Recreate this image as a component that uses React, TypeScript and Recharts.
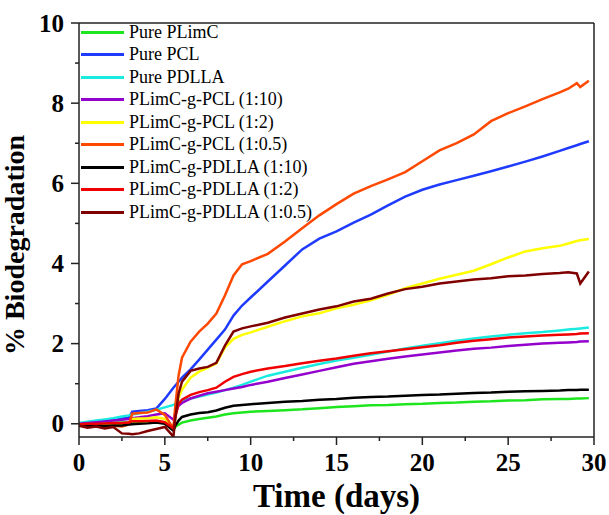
import { LineChart, Line, XAxis, YAxis, ReferenceLine, Legend } from 'recharts'

const DAYS = [0, 0.5, 1, 1.5, 2, 2.5, 2.9, 3.1, 3.5, 4, 4.5, 5, 5.5, 5.6, 5.8, 6, 6.5, 7, 7.5, 8, 8.5, 9, 9.5, 10, 11, 12, 13, 14, 15, 16, 17, 18, 19, 20, 21, 22, 23, 24, 25, 26, 27, 28, 28.5, 29, 29.2, 29.7]

const PURE_PLIMC = [0, 0.01, 0.01, 0.02, 0.02, 0.03, 0.03, 0.04, 0.04, 0.05, 0.06, 0.02, -0.15, -0.08, -0.02, 0.03, 0.08, 0.12, 0.15, 0.18, 0.23, 0.26, 0.28, 0.3, 0.32, 0.34, 0.36, 0.39, 0.42, 0.44, 0.46, 0.47, 0.49, 0.5, 0.52, 0.53, 0.55, 0.56, 0.58, 0.59, 0.61, 0.62, 0.62, 0.63, 0.63, 0.64]
const PURE_PCL = [0, 0.03, 0.06, 0.09, 0.11, 0.13, 0.15, 0.3, 0.32, 0.34, 0.38, 0.62, 0.9, 0.95, 1.05, 1.15, 1.36, 1.6, 1.85, 2.1, 2.35, 2.7, 2.95, 3.15, 3.55, 3.95, 4.35, 4.62, 4.8, 5.02, 5.22, 5.45, 5.67, 5.84, 5.97, 6.08, 6.19, 6.3, 6.42, 6.54, 6.67, 6.81, 6.88, 6.95, 6.98, 7.05]
const PURE_PDLLA = [0.02, 0.05, 0.08, 0.11, 0.14, 0.18, 0.21, 0.23, 0.26, 0.3, 0.35, 0.41, 0.47, 0.5, 0.54, 0.58, 0.63, 0.68, 0.73, 0.78, 0.84, 0.9, 0.97, 1.05, 1.2, 1.3, 1.4, 1.49, 1.58, 1.65, 1.72, 1.8, 1.88, 1.95, 2.01, 2.07, 2.13, 2.18, 2.22, 2.26, 2.29, 2.33, 2.35, 2.37, 2.38, 2.4]
const PCL_1_10 = [0, 0.02, 0.04, 0.06, 0.08, 0.1, 0.12, 0.14, 0.16, 0.19, 0.23, 0.26, 0.1, 0.25, 0.45, 0.52, 0.63, 0.7, 0.76, 0.8, 0.84, 0.88, 0.92, 0.97, 1.05, 1.14, 1.23, 1.32, 1.41, 1.5, 1.56, 1.62, 1.68, 1.73, 1.78, 1.83, 1.87, 1.9, 1.94, 1.97, 2.0, 2.02, 2.03, 2.04, 2.05, 2.06]
const PCL_1_2 = [-0.02, -0.03, -0.02, -0.03, -0.01, 0, 0.02, 0.12, 0.13, 0.14, 0.16, 0.12, -0.1, 0.15, 0.65, 0.85, 1.15, 1.3, 1.4, 1.5, 1.9, 2.12, 2.22, 2.28, 2.42, 2.56, 2.68, 2.76, 2.88, 2.97, 3.08, 3.22, 3.38, 3.5, 3.62, 3.72, 3.82, 3.98, 4.15, 4.3, 4.38, 4.44, 4.5, 4.56, 4.58, 4.61]
const PCL_1_05 = [-0.03, -0.06, -0.04, -0.08, -0.05, -0.07, -0.02, 0.25, 0.27, 0.28, 0.36, 0.22, -0.12, 0.4, 1.2, 1.65, 2.05, 2.3, 2.5, 2.75, 3.2, 3.7, 3.98, 4.06, 4.24, 4.55, 4.88, 5.2, 5.48, 5.74, 5.93, 6.1, 6.28, 6.55, 6.82, 7.0, 7.22, 7.55, 7.75, 7.92, 8.1, 8.27, 8.36, 8.5, 8.4, 8.56]
const PDLLA_1_10 = [-0.03, -0.05, -0.04, -0.05, -0.04, -0.04, -0.02, -0.01, 0, 0.01, 0.03, 0, -0.17, -0.05, 0.08, 0.17, 0.23, 0.27, 0.29, 0.33, 0.4, 0.45, 0.47, 0.49, 0.52, 0.55, 0.57, 0.6, 0.62, 0.65, 0.67, 0.68, 0.7, 0.72, 0.73, 0.75, 0.77, 0.78, 0.8, 0.81, 0.82, 0.83, 0.84, 0.84, 0.85, 0.85]
const PDLLA_1_2 = [-0.02, 0, 0, 0.01, 0.02, 0.02, 0.03, 0.06, 0.06, 0.07, 0.08, 0.04, -0.12, 0.15, 0.5, 0.6, 0.72, 0.79, 0.84, 0.9, 1.05, 1.17, 1.24, 1.3, 1.38, 1.44, 1.51, 1.57, 1.63, 1.7, 1.76, 1.81, 1.86, 1.91, 1.96, 2.02, 2.07, 2.11, 2.15, 2.18, 2.2, 2.22, 2.23, 2.24, 2.25, 2.26]
const PDLLA_1_05 = [-0.05, -0.1, -0.07, -0.12, -0.08, -0.24, -0.25, -0.26, -0.24, -0.18, -0.13, -0.08, -0.32, 0.1, 0.75, 1.05, 1.32, 1.38, 1.42, 1.52, 1.95, 2.3, 2.38, 2.43, 2.52, 2.65, 2.75, 2.85, 2.93, 3.05, 3.12, 3.25, 3.36, 3.42, 3.5, 3.55, 3.6, 3.63, 3.68, 3.7, 3.74, 3.76, 3.78, 3.75, 3.5, 3.8]

const SERIES = [
  { key: 'plimc', name: 'Pure PLimC', color: '#1EE61E', values: PURE_PLIMC },
  { key: 'pcl', name: 'Pure PCL', color: '#1F3BFF', values: PURE_PCL },
  { key: 'pdlla', name: 'Pure PDLLA', color: '#19EBE0', values: PURE_PDLLA },
  { key: 'pcl110', name: 'PLimC-g-PCL (1:10)', color: '#9400CC', values: PCL_1_10 },
  { key: 'pcl12', name: 'PLimC-g-PCL (1:2)', color: '#FFFF00', values: PCL_1_2 },
  { key: 'pcl105', name: 'PLimC-g-PCL (1:0.5)', color: '#FF4800', values: PCL_1_05 },
  { key: 'pdlla110', name: 'PLimC-g-PDLLA (1:10)', color: '#000000', values: PDLLA_1_10 },
  { key: 'pdlla12', name: 'PLimC-g-PDLLA (1:2)', color: '#F00000', values: PDLLA_1_2 },
  { key: 'pdlla105', name: 'PLimC-g-PDLLA (1:0.5)', color: '#800000', values: PDLLA_1_05 },
]

const X_TICKS = [0, 2.5, 5, 7.5, 10, 12.5, 15, 17.5, 20, 22.5, 25, 27.5, 30]
const Y_TICKS = [0, 1, 2, 3, 4, 5, 6, 7, 8, 9, 10]

const data = DAYS.map((day, i) => {
  const row: Record<string, number> = { day }
  SERIES.forEach(s => { row[s.key] = s.values[i] })
  return row
})

const FONT = '"Liberation Serif", "Times New Roman", serif'
const AXIS = '#222'

function XTick(props: any) {
  const { x, y, payload } = props
  const major = payload.value % 5 === 0
  return (
    <g>
      <line x1={x} x2={x} y1={y} y2={y + (major ? 8 : 4)} stroke={AXIS} strokeWidth={1.5} />
      {major && (
        <text x={x} y={y + 34} textAnchor="middle" fontFamily={FONT} fontWeight="bold" fontSize={25} fill="#000">
          {payload.value}
        </text>
      )}
    </g>
  )
}

function YTick(props: any) {
  const { x, y, payload } = props
  const major = payload.value % 2 === 0
  return (
    <g>
      <line x1={x} x2={x - (major ? 8 : 4)} y1={y} y2={y} stroke={AXIS} strokeWidth={1.5} />
      {major && (
        <text x={x - 15} y={y + 8.5} textAnchor="end" fontFamily={FONT} fontWeight="bold" fontSize={25} fill="#000">
          {payload.value}
        </text>
      )}
    </g>
  )
}

function LegendBox() {
  return (
    <div style={{ fontFamily: FONT, fontSize: 18, color: '#000' }}>
      {SERIES.map(s => (
        <div key={s.key} style={{ display: 'flex', alignItems: 'center', height: 22.5, whiteSpace: 'nowrap' }}>
          <div style={{ width: 43, height: 3, background: s.color, marginRight: 5 }} />
          <span>{s.name}</span>
        </div>
      ))}
    </div>
  )
}

export default function App() {
  return (
    <div style={{ position: 'absolute', left: 0, top: 0, background: '#fff' }}>
      <LineChart width={609} height={515} data={data} margin={{ top: 23, right: 15, left: 0, bottom: 0 }}>
        <XAxis
          dataKey="day"
          type="number"
          domain={[0, 30]}
          ticks={X_TICKS}
          interval={0}
          tickSize={0}
          tickMargin={0}
          tick={<XTick />}
          height={78}
          stroke={AXIS}
          strokeWidth={1.5}
          label={{ value: 'Time (days)', position: 'insideBottom', offset: 8, fontFamily: FONT, fontWeight: 'bold', fontSize: 33, fill: '#000' }}
        />
        <YAxis
          type="number"
          domain={[-0.33, 10]}
          ticks={Y_TICKS}
          interval={0}
          allowDataOverflow
          tickSize={0}
          tickMargin={0}
          tick={<YTick />}
          width={79}
          stroke={AXIS}
          strokeWidth={1.5}
          label={{ value: '% Biodegradation', angle: -90, position: 'insideLeft', offset: 14, dy: 15, fontFamily: FONT, fontWeight: 'bold', fontSize: 28, fill: '#000', style: { textAnchor: 'middle' } }}
        />
        <ReferenceLine y={10} stroke={AXIS} strokeWidth={1.5} />
        <ReferenceLine x={30} stroke={AXIS} strokeWidth={1.5} />
        {SERIES.map(s => (
          <Line
            key={s.key}
            dataKey={s.key}
            name={s.name}
            type="linear"
            stroke={s.color}
            strokeWidth={2.5}
            dot={false}
            isAnimationActive={false}
          />
        ))}
        <Legend
          layout="vertical"
          align="center"
          verticalAlign="middle"
          content={<LegendBox />}
          wrapperStyle={{ left: 81, top: 21, width: 260, height: 205 }}
        />
      </LineChart>
    </div>
  )
}
